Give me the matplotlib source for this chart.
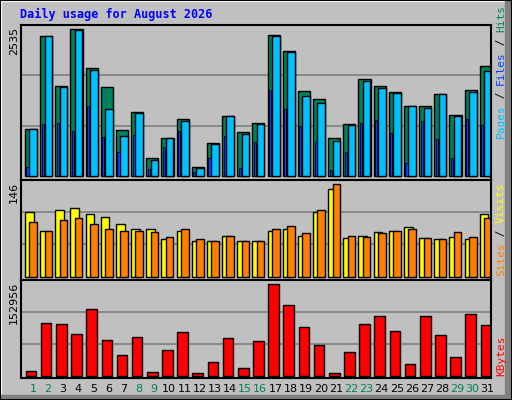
import matplotlib
matplotlib.use("Agg")
import matplotlib.pyplot as plt
from matplotlib.patches import Rectangle
import numpy as np

days = np.arange(1, 32)
hits = [811, 2414, 1552, 2535, 1862, 1535, 793, 1104, 310, 655, 983, 155, 569, 1035, 759, 914,
        2432, 2156, 1466, 1328, 655, 897, 1673, 1552, 1449, 1207, 1207, 1414, 1052, 1483, 1897]
pages = [811, 2414, 1535, 2518, 1828, 1155, 690, 1086, 276, 655, 948, 138, 552, 1035, 724, 897,
         2414, 2138, 1380, 1259, 604, 879, 1638, 1518, 1431, 1207, 1173, 1414, 1035, 1449, 1811]
files = [155, 897, 914, 776, 1207, 673, 414, 707, 121, 500, 776, 69, 310, 690, 138, 586,
         1483, 1155, 862, 586, 103, 414, 914, 966, 742, 224, 948, 638, 310, 983, 879]
visits = [103, 73, 106, 108, 99, 95, 84, 76, 76, 59, 73, 56, 57, 64, 56, 57,
          72, 76, 64, 103, 138, 61, 64, 70, 72, 78, 61, 59, 62, 59, 99]
sites = [86, 72, 89, 92, 83, 76, 73, 73, 70, 62, 76, 59, 57, 65, 57, 57,
         76, 80, 69, 105, 146, 65, 62, 69, 73, 76, 61, 59, 71, 62, 92]
kbytes = [7257, 87640, 85963, 69218, 111084, 59170, 34051, 64194, 5582, 42424, 72567, 3908,
          22329, 62520, 12281, 57497, 152956, 117781, 80941, 50798, 3908, 39075, 85963, 99361,
          74242, 18979, 99361, 67544, 30702, 102711, 84290]
weekend = {1, 2, 8, 9, 15, 16, 22, 23, 29, 30}

GRAY = "#c0c0c0"
C_HIT, C_FILE, C_PAGE = "#00805c", "#0040ff", "#00c0ff"
C_VISIT, C_SITE, C_KB = "#ffff00", "#ff8000", "#ff0000"
MONO = "DejaVu Sans Mono"

W, H = 512, 400
fig = plt.figure(figsize=(W / 100, H / 100), dpi=100)
fig.patch.set_facecolor(GRAY)


def fx(px):
    return px / W


def fy(py):
    return 1 - py / H


# frame: white top/left, dark shadow right/bottom
fig.add_artist(Rectangle((0, 0), 1, 1, transform=fig.transFigure, fill=False, ec="white", lw=3))
fig.add_artist(Rectangle((fx(505), 0), fx(7), 1, transform=fig.transFigure, color="#808080"))
fig.add_artist(Rectangle((0, 0), 1, 5 / H, transform=fig.transFigure, color="#808080"))
fig.add_artist(Rectangle((0, 0), 1, 1, transform=fig.transFigure, fill=False, ec="black", lw=1.5))

left, right = 20.7, 490.7


def panel(top, bottom, base, ymax_px):
    ax = fig.add_axes([fx(left), fy(bottom), fx(right - left), (bottom - top) / H])
    ax.set_facecolor(GRAY)
    ax.set_xlim(0.5, 31.5)
    for s in ax.spines.values():
        s.set_linewidth(1.5)
    ax.set_xticks([])
    ax.set_yticks([])
    return ax


def setup_y(ax, vmax, top, bottom, base, peak):
    # pixel geometry -> data limits
    scale = vmax / (base - peak)
    ax.set_ylim(-(bottom - base) * scale, (base - top) * scale)
    span = (base - top) * scale
    for f in (1 / 3, 2 / 3):
        ax.axhline(span * f, color="#808080", lw=1.2, zorder=0)


ax1 = panel(25, 180, 176, 29)
setup_y(ax1, max(hits), 25, 180, 176, 29)
ax1.bar(days - 0.22, hits, width=0.8, align="edge", color=C_HIT, ec="black", lw=1)
ax1.bar(days + 0.07, pages, width=0.5, align="edge", color=C_PAGE, ec="black", lw=1)
ax1.bar(days - 0.12, files, width=0.14, align="edge", color=C_FILE, ec="black", lw=0.6)

ax2 = panel(180, 280, 276.7, 184.3)
setup_y(ax2, max(sites), 180, 280, 276.7, 184.3)
ax2.bar(days - 0.22, visits, width=0.57, align="edge", color=C_VISIT, ec="black", lw=1)
ax2.bar(days + 0.07, sites, width=0.5, align="edge", color=C_SITE, ec="black", lw=1)

ax3 = panel(280, 378, 375.7, 284.3)
setup_y(ax3, max(kbytes), 280, 378, 375.7, 284.3)
ax3.bar(days - 0.17, kbytes, width=0.7, align="edge", color=C_KB, ec="black", lw=1)

fig.text(fx(20), fy(14), "Daily usage for August 2026", color="#0000ff", family=MONO,
         weight="bold", fontsize=8.5, va="center")

for txt, ypx in [(str(max(hits)), 27), (str(max(sites)), 182), (str(max(kbytes)), 282)]:
    fig.text(fx(14), fy(ypx), txt, rotation=90, ha="center", va="top", fontsize=8)

for d in days:
    fig.text(fx(left + (d - 0.5 + 0.3) * (right - left) / 31), fy(389), str(d),
             ha="center", va="center", fontsize=8,
             color=C_HIT if d in weekend else "black")


def side_label(parts, ypx_bottom):
    y = ypx_bottom
    for txt, col in parts:
        t = fig.text(fx(501), fy(y), txt, rotation=90, color=col, family=MONO,
                     fontsize=8, ha="center", va="bottom")
        y -= len(txt) * 6.6


side_label([("Pages", C_PAGE), (" / ", "black"), ("Files", C_FILE), (" / ", "black"), ("Hits", C_HIT)], 138)
side_label([("Sites", C_SITE), (" / ", "black"), ("Visits", C_VISIT)], 276)
side_label([("KBytes", C_KB)], 376)

fig.savefig("out.png", dpi=100, facecolor=GRAY)
